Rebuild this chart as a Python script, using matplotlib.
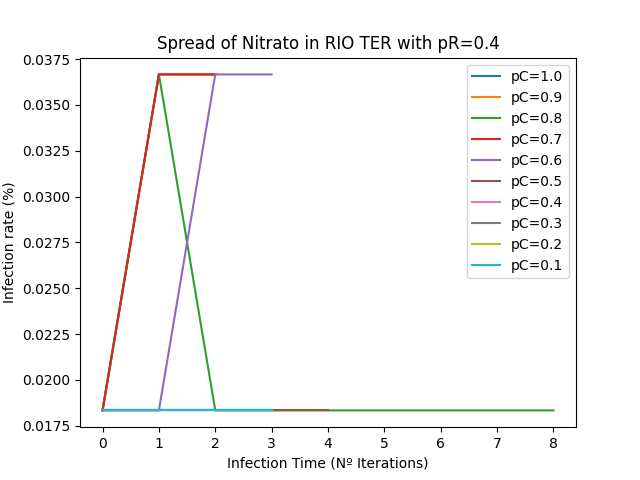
import matplotlib
matplotlib.use('Agg')
import matplotlib.pyplot as plt

lo = 0.018333
hi = 0.036667

labels = ['pC=1.0', 'pC=0.9', 'pC=0.8', 'pC=0.7', 'pC=0.6',
          'pC=0.5', 'pC=0.4', 'pC=0.3', 'pC=0.2', 'pC=0.1']
series = [
    [lo, hi, hi],
    [lo, hi, hi],
    [lo, hi, lo, lo, lo, lo, lo, lo, lo],
    [lo, hi, hi],
    [lo, lo, hi, hi],
    [lo, lo, lo, lo, lo],
    [lo, lo, lo, lo],
    [lo, lo, lo, lo],
    [lo, lo, lo, lo],
    [lo, lo, lo, lo],
]

fig, ax = plt.subplots(figsize=(6.4, 4.8), dpi=100)
for lab, ys in zip(labels, series):
    ax.plot(range(len(ys)), ys, label=lab)

ax.set_title('Spread of Nitrato in RIO TER with pR=0.4')
ax.set_xlabel('Infection Time (Nº Iterations)')
ax.set_ylabel('Infection rate (%)')
ax.legend()
fig.savefig('out.png')
